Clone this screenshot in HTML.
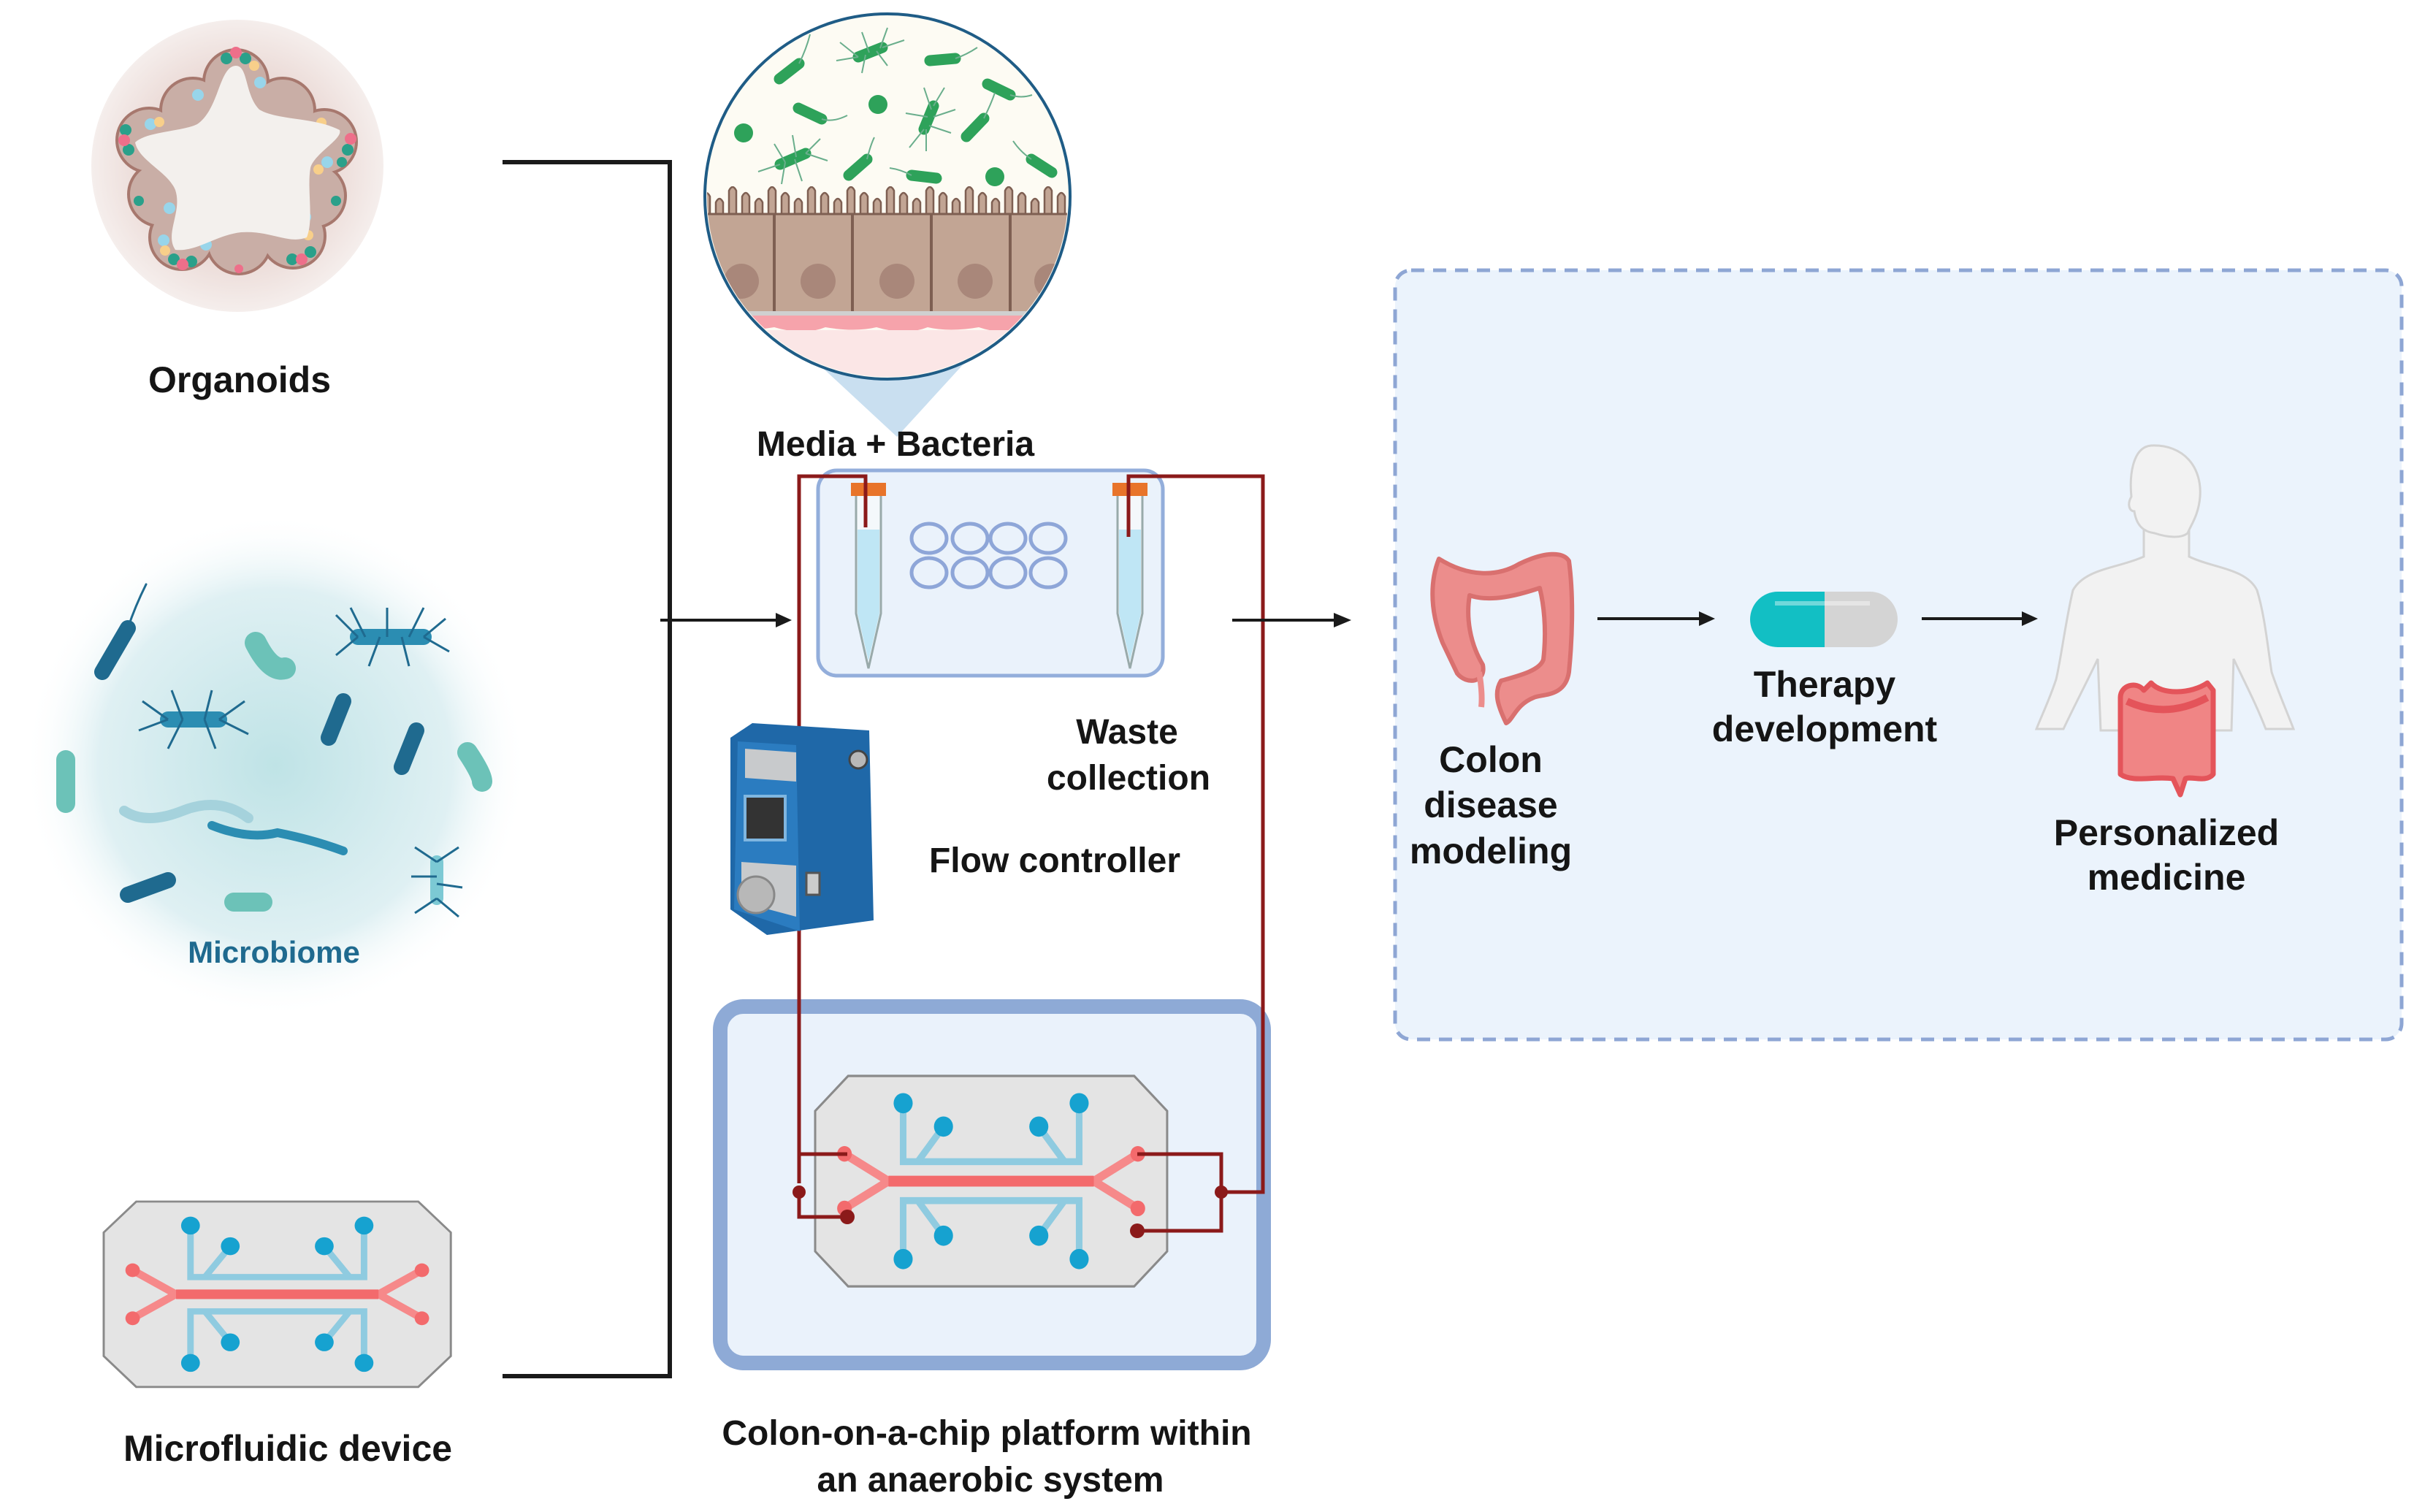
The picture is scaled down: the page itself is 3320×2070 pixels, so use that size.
<!DOCTYPE html>
<html><head><meta charset="utf-8"><style>
html,body{margin:0;padding:0;background:#fff}
svg{display:block}
text{font-family:"Liberation Sans",Arial,sans-serif;font-weight:bold;fill:#151515}
</style></head><body>
<svg width="3320" height="2070" viewBox="0 0 3320 2070" xmlns="http://www.w3.org/2000/svg">
<defs>
<radialGradient id="org" cx="50%" cy="50%" r="50%"><stop offset="0.6" stop-color="#ead8d4"/><stop offset="1" stop-color="#f5eeec"/></radialGradient>
<radialGradient id="cloud" cx="50%" cy="50%" r="50%"><stop offset="0" stop-color="#bfe3e6"/><stop offset="0.7" stop-color="#dff0f3"/><stop offset="1" stop-color="#ffffff" stop-opacity="0"/></radialGradient>
<pattern id="villi" x="960" y="255" width="54" height="40" patternUnits="userSpaceOnUse">
<path d="M2,40 V14 q5,-10 10,0 V40 M20,40 V22 q5,-10 10,0 V40 M38,40 V6 q5,-10 10,0 V40" fill="#c2a594" stroke="#7e5f52" stroke-width="2.5"/>
</pattern>
<clipPath id="mc"><circle cx="1215" cy="269" r="247"/></clipPath>
<g id="chip">
<polygon points="45,0 435,0 480,45 480,225 435,270 45,270 0,225 0,45" fill="#e4e4e4" stroke="#8a8a8a" stroke-width="3"/>
<g stroke="#8fcbe0" stroke-width="9" fill="none">
<path d="M120,35 V110 H360 V35"/><path d="M175,65 L140,110"/><path d="M305,65 L340,110"/>
<path d="M120,235 V160 H360 V235"/><path d="M175,205 L140,160"/><path d="M305,205 L340,160"/>
</g>
<g stroke="#f6898a" stroke-width="11" fill="none"><path d="M40,100 L100,135 L380,135 L440,100"/><path d="M40,170 L100,135"/><path d="M440,170 L380,135"/></g>
<path d="M100,135 H380" stroke="#f36a6c" stroke-width="14"/>
<g fill="#16a2d0"><circle cx="120" cy="35" r="13"/><circle cx="175" cy="65" r="13"/><circle cx="360" cy="35" r="13"/><circle cx="305" cy="65" r="13"/><circle cx="120" cy="235" r="13"/><circle cx="175" cy="205" r="13"/><circle cx="360" cy="235" r="13"/><circle cx="305" cy="205" r="13"/></g>
<g fill="#f36a6c"><circle cx="40" cy="100" r="10"/><circle cx="40" cy="170" r="10"/><circle cx="440" cy="100" r="10"/><circle cx="440" cy="170" r="10"/></g>
</g>
</defs>

<!-- Organoid -->
<circle cx="325" cy="227" r="200" fill="url(#org)"/>
<g fill="#a7786e">
<circle cx="323" cy="112" r="46"/><circle cx="264" cy="151" r="46"/><circle cx="204" cy="192" r="46"/><circle cx="220" cy="266" r="46"/><circle cx="249" cy="325" r="46"/><circle cx="327" cy="331" r="46"/><circle cx="401" cy="323" r="46"/><circle cx="429" cy="268" r="46"/><circle cx="444" cy="194" r="46"/><circle cx="387" cy="151" r="46"/>
</g>
<g fill="#c9aea6">
<circle cx="323" cy="112" r="42"/><circle cx="264" cy="151" r="42"/><circle cx="204" cy="192" r="42"/><circle cx="220" cy="266" r="42"/><circle cx="249" cy="325" r="42"/><circle cx="327" cy="331" r="42"/><circle cx="401" cy="323" r="42"/><circle cx="429" cy="268" r="42"/><circle cx="444" cy="194" r="42"/><circle cx="387" cy="151" r="42"/>
</g>
<g fill="#2aa08a"><circle cx="310" cy="80" r="8"/><circle cx="336" cy="80" r="8"/><circle cx="172" cy="178" r="8"/><circle cx="176" cy="205" r="8"/><circle cx="476" cy="205" r="8"/><circle cx="468" cy="222" r="7"/><circle cx="238" cy="355" r="8"/><circle cx="262" cy="358" r="8"/><circle cx="400" cy="355" r="8"/><circle cx="425" cy="345" r="8"/><circle cx="190" cy="275" r="7"/><circle cx="460" cy="275" r="7"/></g>
<g fill="#ee6f8a"><circle cx="323" cy="72" r="8"/><circle cx="170" cy="192" r="8"/><circle cx="480" cy="190" r="8"/><circle cx="250" cy="362" r="8"/><circle cx="413" cy="355" r="8"/><circle cx="327" cy="368" r="6"/></g>
<g fill="#98d5ea"><circle cx="356" cy="113" r="8"/><circle cx="271" cy="130" r="8"/><circle cx="206" cy="170" r="8"/><circle cx="448" cy="222" r="8"/><circle cx="232" cy="285" r="8"/><circle cx="418" cy="297" r="8"/><circle cx="224" cy="329" r="8"/><circle cx="282" cy="335" r="8"/></g>
<g fill="#f8cf8a"><circle cx="218" cy="167" r="7"/><circle cx="440" cy="168" r="7"/><circle cx="436" cy="232" r="7"/><circle cx="226" cy="343" r="7"/><circle cx="422" cy="322" r="7"/><circle cx="348" cy="90" r="7"/></g>
<path d="M323,90 C340,90 335,130 355,150 C380,165 430,160 465,178 C470,190 430,210 425,230 C420,260 430,300 420,325 C395,335 370,315 330,318 C295,322 270,345 240,342 C225,320 250,290 240,260 C230,235 190,220 185,195 C200,180 250,180 270,170 C300,150 300,90 323,90Z" fill="#f3f0ed"/>
<text x="328" y="537" font-size="50" text-anchor="middle">Organoids</text>

<!-- Microbiome -->
<circle cx="377" cy="1048" r="345" fill="url(#cloud)"/>
<g stroke-linecap="round" fill="none">
<path d="M140,920 L175,860" stroke="#1f6a8f" stroke-width="22"/><path d="M175,860 Q185,830 200,800" stroke="#1f6a8f" stroke-width="3"/>
<path d="M350,880 Q370,920 390,915" stroke="#6cc2b8" stroke-width="30"/>
<path d="M490,872 H580" stroke="#2b8db2" stroke-width="22"/>
<path d="M230,985 H300" stroke="#2b8db2" stroke-width="22"/>
<path d="M450,1010 L470,960" stroke="#1f6a8f" stroke-width="22"/>
<path d="M550,1050 L570,1000" stroke="#1f6a8f" stroke-width="22"/>
<path d="M640,1030 Q660,1060 660,1070" stroke="#6cc2b8" stroke-width="28"/>
<path d="M90,1040 L90,1100" stroke="#6cc2b8" stroke-width="26"/>
<path d="M170,1110 Q200,1130 250,1110 Q300,1090 340,1120" stroke="#a5d2dc" stroke-width="14"/>
<path d="M290,1130 Q340,1150 380,1140 Q430,1150 470,1165" stroke="#2b8db2" stroke-width="12"/>
<path d="M175,1225 L230,1205" stroke="#1f6a8f" stroke-width="22"/>
<path d="M320,1235 H360" stroke="#6cc2b8" stroke-width="26"/>
<path d="M598,1180 V1230" stroke="#7cc9d4" stroke-width="18"/>
</g>
<g stroke="#1f6a8f" stroke-width="3" fill="none">
<path d="M490,872 l-30,-30 M500,872 l-20,-40 M530,872 v-40 M560,872 l20,-40 M580,872 l30,-25 M490,872 l-30,25 M520,872 l-15,40 M550,872 l10,40 M580,872 l35,20"/>
<path d="M230,985 l-35,-25 M250,985 l-15,-40 M280,985 l10,-40 M300,985 l35,-25 M230,985 l-40,15 M250,985 l-20,40 M280,985 l15,40 M300,985 l40,20"/>
<path d="M598,1180 l-30,-20 M598,1180 l30,-20 M598,1230 l-30,20 M598,1230 l30,25 M598,1200 l-35,0 M598,1210 l35,5"/>
</g>
<text x="375" y="1318" font-size="42" text-anchor="middle" style="fill:#1f6a8f">Microbiome</text>

<!-- Left microfluidic device -->
<use href="#chip" transform="translate(142,1645) scale(0.99,0.94)"/>
<text x="394" y="2000" font-size="50" text-anchor="middle">Microfluidic device</text>

<!-- Bracket -->
<path d="M688,222 H917 V1884 H688" stroke="#1a1a1a" stroke-width="6" fill="none"/>
<path d="M904,849 H1070" stroke="#1a1a1a" stroke-width="4"/><path d="M1084,849 L1062,839 L1062,859Z" fill="#1a1a1a"/>

<!-- Media + Bacteria circle -->
<polygon points="1090,470 1345,470 1228,598" fill="#c9dff0"/>
<circle cx="1215" cy="269" r="250" fill="#fdfbf3"/>
<g clip-path="url(#mc)">
<rect x="960" y="255" width="520" height="40" fill="url(#villi)"/>
<rect x="960" y="293" width="520" height="135" fill="#c2a594"/>
<path d="M960,293 H1480" stroke="#7e5f52" stroke-width="3"/>
<g stroke="#7e5f52" stroke-width="4"><path d="M1060,293 V428 M1167,293 V428 M1275,293 V428 M1383,293 V428"/></g>
<g fill="#a9877a"><circle cx="1015" cy="385" r="24"/><circle cx="1120" cy="385" r="24"/><circle cx="1228" cy="385" r="24"/><circle cx="1335" cy="385" r="24"/><circle cx="1440" cy="385" r="24"/></g>
<rect x="960" y="426" width="520" height="6" fill="#d0d0d0"/>
<path d="M960,432 H1480 V450 Q1440,455 1400,448 Q1375,460 1340,448 Q1300,455 1270,448 Q1240,460 1200,448 Q1170,455 1130,448 Q1100,460 1060,448 Q1020,455 960,448Z" fill="#f6a3ab"/>
<rect x="960" y="452" width="520" height="80" fill="#fbe6e6"/>
</g>
<circle cx="1215" cy="269" r="250" fill="none" stroke="#1f5c86" stroke-width="4"/>
<g stroke="#2ea25a" stroke-width="15" stroke-linecap="round">
<path d="M1067,108 L1094,87"/><path d="M1175,78 L1208,65"/><path d="M1273,83 L1308,80"/><path d="M1352,115 L1383,130"/><path d="M1093,148 L1125,163"/><path d="M1265,177 L1278,145"/><path d="M1323,187 L1347,162"/><path d="M1068,225 L1103,210"/><path d="M1162,240 L1187,218"/><path d="M1248,240 L1282,244"/><path d="M1412,218 L1440,236"/>
</g>
<g fill="#2ea25a"><circle cx="1202" cy="143" r="13"/><circle cx="1018" cy="182" r="13"/><circle cx="1362" cy="242" r="13"/></g>
<g stroke="#6aae8c" stroke-width="2" fill="none">
<path d="M1094,87 q10,-20 15,-40"/><path d="M1125,163 q15,5 35,-5"/><path d="M1308,80 q15,-5 30,-15"/><path d="M1383,130 q15,5 30,0"/><path d="M1187,218 q5,-20 10,-30"/><path d="M1248,240 q-15,-8 -30,-10"/><path d="M1347,162 q10,-20 15,-35"/><path d="M1412,218 q-15,-10 -25,-25"/>
<path d="M1175,78 l-25,-20 M1190,72 l-10,-28 M1205,66 l10,-28 M1208,65 l30,-10 M1175,78 l-30,5 M1185,75 l-5,25 M1200,70 l15,20"/>
<path d="M1265,177 l-20,25 M1270,160 l-30,-5 M1275,150 l-10,-30 M1278,145 l15,-25 M1278,160 l30,-10 M1272,172 l30,10 M1268,177 l0,30"/>
<path d="M1068,225 l-30,10 M1075,222 l-15,-25 M1090,215 l-5,-30 M1103,210 l20,-20 M1103,210 l30,10 M1088,218 l10,30 M1075,222 l-5,30"/>
</g>
<text x="1226" y="624" font-size="48" text-anchor="middle">Media + Bacteria</text>

<!-- Media box -->
<rect x="1120" y="644" width="472" height="281" rx="26" fill="#eaf2fb" stroke="#93aedb" stroke-width="5"/>
<g fill="none" stroke="#8ea6d8" stroke-width="5">
<ellipse cx="1272" cy="737" rx="24" ry="20"/><ellipse cx="1328" cy="737" rx="24" ry="20"/><ellipse cx="1380" cy="737" rx="24" ry="20"/><ellipse cx="1435" cy="737" rx="24" ry="20"/>
<ellipse cx="1272" cy="784" rx="24" ry="20"/><ellipse cx="1328" cy="784" rx="24" ry="20"/><ellipse cx="1380" cy="784" rx="24" ry="20"/><ellipse cx="1435" cy="784" rx="24" ry="20"/>
</g>
<path d="M1172,675 H1206 V840 L1189,915 L1172,840Z" fill="#f4f8fb" stroke="#9aa" stroke-width="3"/>
<path d="M1174,725 H1204 V840 L1189,905 L1174,840Z" fill="#bfe6f5"/>
<rect x="1165" y="661" width="48" height="18" fill="#e8742a"/>
<path d="M1530,675 H1564 V840 L1547,915 L1530,840Z" fill="#f4f8fb" stroke="#9aa" stroke-width="3"/>
<path d="M1532,725 H1562 V840 L1547,905 L1532,840Z" fill="#bfe6f5"/>
<rect x="1523" y="661" width="48" height="18" fill="#e8742a"/>

<!-- Anaerobic box -->
<rect x="986" y="1378" width="744" height="488" rx="32" fill="#eaf2fb" stroke="#8eaad6" stroke-width="20"/>
<use href="#chip" transform="translate(1116,1473) scale(1.004,1.067)"/>

<!-- red tubing -->
<g stroke="#8b1a1a" stroke-width="5" fill="none">
<path d="M1094,1620 V652 H1185 V722"/>
<path d="M1094,1580 H1160"/><path d="M1094,1632 V1666 H1160"/>
<path d="M1545,735 V652 H1729 V1632 H1672"/>
<path d="M1557,1580 H1672 V1685 H1557"/>
</g>
<g fill="#8b1a1a"><circle cx="1094" cy="1632" r="9"/><circle cx="1672" cy="1632" r="9"/><circle cx="1160" cy="1666" r="10"/><circle cx="1557" cy="1685" r="10"/></g>

<!-- flow controller -->
<path d="M1000,1010 L1030,990 L1190,1000 L1196,1260 L1050,1280 L1000,1245Z" fill="#1f68a8"/>
<path d="M1010,1015 L1090,1020 L1095,1275 L1005,1245Z" fill="#2b7cc0"/>
<path d="M1020,1025 L1090,1030 L1090,1070 L1020,1065Z" fill="#c8cacc"/>
<rect x="1020" y="1090" width="55" height="60" fill="#333" stroke="#7fb6e0" stroke-width="4"/>
<path d="M1015,1180 L1090,1185 L1090,1255 L1015,1235Z" fill="#c8cacc"/>
<circle cx="1035" cy="1225" r="25" fill="#b8b8b8" stroke="#888" stroke-width="3"/>
<rect x="1104" y="1195" width="18" height="30" fill="#ccc" stroke="#555" stroke-width="3"/>
<circle cx="1175" cy="1040" r="12" fill="#b8b8b8" stroke="#444" stroke-width="3"/>

<text x="1543" y="1018" font-size="48" text-anchor="middle">Waste</text>
<text x="1545" y="1081" font-size="48" text-anchor="middle">collection</text>
<text x="1444" y="1194" font-size="48" text-anchor="middle">Flow controller</text>
<text x="1351" y="1978" font-size="48" text-anchor="middle">Colon-on-a-chip platform within</text>
<text x="1356" y="2042" font-size="48" text-anchor="middle">an anaerobic system</text>

<path d="M1687,849 H1830" stroke="#1a1a1a" stroke-width="4"/><path d="M1850,849 L1826,839 L1826,859Z" fill="#1a1a1a"/>

<!-- dashed box -->
<rect x="1910" y="370" width="1378" height="1053" rx="22" fill="#ebf3fc" stroke="#8ea6d4" stroke-width="5" stroke-dasharray="18,12"/>

<!-- colon -->
<path d="M1975,880 C1955,830 1960,790 1970,765 C2010,790 2050,790 2080,772 C2115,755 2140,755 2148,768 C2155,820 2152,880 2148,920 C2143,955 2110,950 2100,955 C2075,965 2072,985 2062,990 C2050,965 2045,948 2055,932 C2080,925 2108,918 2113,903 C2118,860 2113,825 2108,805 C2078,815 2040,825 2012,815 C2007,845 2012,880 2030,910 C2035,935 2008,938 1995,922 Z" fill="#ec8d8c" stroke="#d9706f" stroke-width="6" stroke-linejoin="round"/>
<path d="M2025,920 Q2030,950 2028,968" stroke="#ec8d8c" stroke-width="8" fill="none"/>
<text x="2041" y="1057" font-size="50" text-anchor="middle">Colon</text>
<text x="2041" y="1119" font-size="50" text-anchor="middle">disease</text>
<text x="2041" y="1182" font-size="50" text-anchor="middle">modeling</text>

<path d="M2187,847 H2330" stroke="#1a1a1a" stroke-width="4"/><path d="M2348,847 L2326,837 L2326,857Z" fill="#1a1a1a"/>

<!-- pill -->
<path d="M2434,810 H2498 V886 H2434 A38,38 0 0 1 2434,810Z" fill="#12bfc4"/>
<path d="M2498,810 H2560 A38,38 0 0 1 2560,886 H2498Z" fill="#d4d4d4"/>
<path d="M2430,826 H2560" stroke="#ffffff" stroke-opacity="0.4" stroke-width="6"/>
<text x="2498" y="954" font-size="50" text-anchor="middle">Therapy</text>
<text x="2498" y="1015" font-size="50" text-anchor="middle">development</text>

<path d="M2631,847 H2772" stroke="#1a1a1a" stroke-width="4"/><path d="M2790,847 L2768,837 L2768,857Z" fill="#1a1a1a"/>

<!-- human -->
<path d="M2935,720 L2935,762 C2900,778 2855,778 2838,808 C2828,850 2822,900 2815,930 C2805,960 2795,980 2788,998 L2825,998 C2842,962 2858,932 2872,902 L2876,1000 L3055,1000 L3058,902 C3072,932 3088,962 3102,998 L3140,998 C3130,972 3117,942 3110,920 C3104,880 3100,840 3090,808 C3075,778 3030,778 2997,762 L2997,720 Z" fill="#f2f2f2" stroke="#d3d3d3" stroke-width="3"/>
<path d="M2945,610 C2990,608 3015,640 3012,680 C3010,705 3000,718 2995,730 C2985,738 2965,735 2950,730 C2935,728 2925,720 2922,700 C2915,700 2912,690 2918,680 C2915,650 2920,612 2945,610Z" fill="#f2f2f2" stroke="#d3d3d3" stroke-width="3"/>
<path d="M2903,955 C2903,938 2925,932 2935,945 L2945,935 C2960,952 3000,950 3022,935 L3030,945 L3030,1060 C3020,1072 3000,1062 2992,1066 L2985,1088 L2975,1066 C2950,1062 2920,1072 2903,1060 Z" fill="#f08585" stroke="#e4545a" stroke-width="7" stroke-linejoin="round"/>
<path d="M2912,960 Q2966,985 3022,955" stroke="#e4545a" stroke-width="10" fill="none"/>
<text x="2966" y="1157" font-size="50" text-anchor="middle">Personalized</text>
<text x="2966" y="1218" font-size="50" text-anchor="middle">medicine</text>
</svg>
</body></html>
